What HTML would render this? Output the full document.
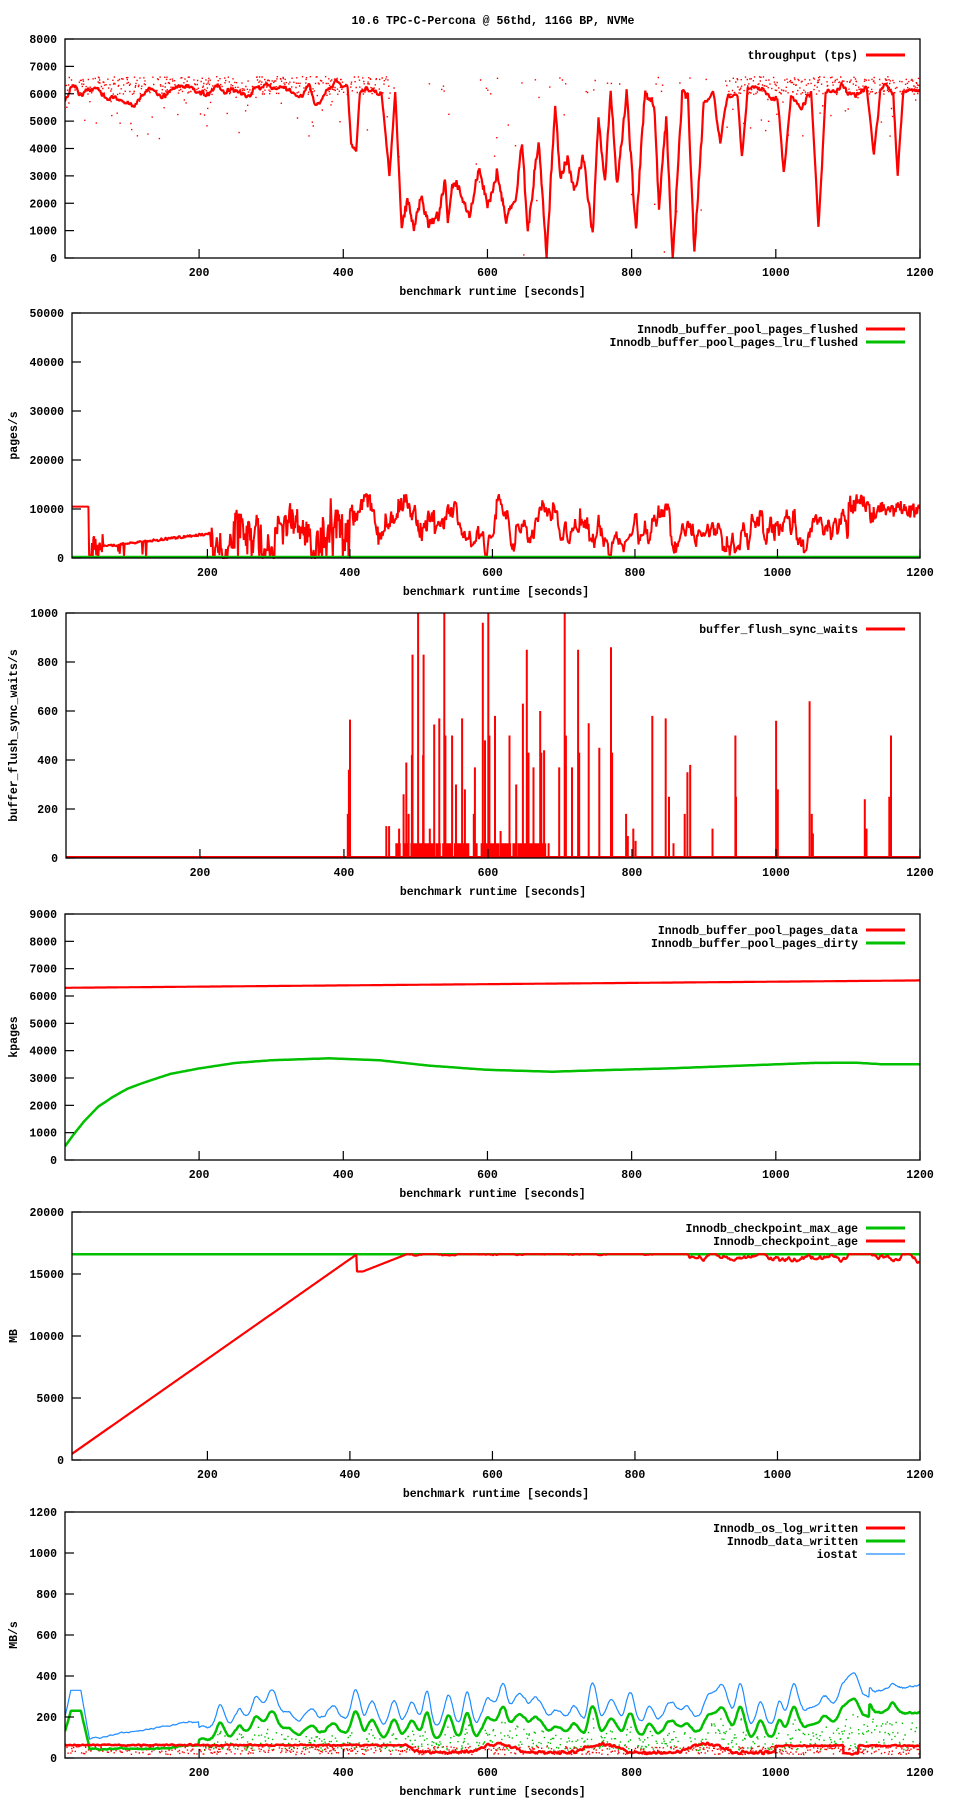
<!DOCTYPE html>
<html><head><meta charset="utf-8"><style>
html,body{margin:0;padding:0;background:#fff}
svg{display:block}
text{font-family:"Liberation Mono","DejaVu Sans Mono",monospace;font-weight:bold;font-size:11.5px;fill:#000}
</style></head><body>
<svg id="s" width="960" height="1800" viewBox="0 0 960 1800" xmlns="http://www.w3.org/2000/svg">
<text x="493" y="24" text-anchor="middle">10.6 TPC-C-Percona @ 56thd, 116G BP, NVMe</text>
</svg>
<script>
let seed=1234567;
function R(){seed|=0;seed=seed+0x6D2B79F5|0;let t=Math.imul(seed^seed>>>15,1|seed);t=t+Math.imul(t^t>>>7,61|t)^t;return((t^t>>>14)>>>0)/4294967296;}
function smooth(n,w){let a=[];for(let i=0;i<n;i++)a.push(R()*2-1);let b=[];for(let i=0;i<n;i++){let s=0,c=0;for(let j=-w;j<=w;j++){let k=i+j;if(k>=0&&k<n){s+=a[k];c++}}b.push(s/c*Math.sqrt(2*w+1)*0.6)}return b;}
function interp(kp,t){if(t<=kp[0][0])return kp[0][1];for(let i=1;i<kp.length;i++){if(t<=kp[i][0]){let a=kp[i-1],b=kp[i];return a[1]+(b[1]-a[1])*(t-a[0])/(b[0]-a[0]);}}return kp[kp.length-1][1];}
let out=[];let cid=0;
function P(o){o.right=o.right||920;const sx=(o.right-o.left)/(1200-o.xmin);o.X=t=>o.left+(t-o.xmin)*sx;o.Y=v=>o.bottom-(v-o.ymin)/(o.ymax-o.ymin)*(o.bottom-o.top);o.cid='c'+(cid++);
out.push(`<clipPath id="${o.cid}"><rect x="${o.left}" y="${o.top-1}" width="${o.right-o.left}" height="${o.bottom-o.top+2}"/></clipPath>`);return o;}
function line(o,pts,col,w){out.push(`<polyline clip-path="url(#${o.cid})" fill="none" stroke="${col}" stroke-width="${w}" stroke-linejoin="bevel" points="${pts.map(p=>p[0].toFixed(1)+','+p[1].toFixed(1)).join(' ')}"/>`);}
function dots(o,pts,col){let d=pts.map(p=>`M${p[0].toFixed(1)} ${p[1].toFixed(1)}h1.4v1.4h-1.4z`).join('');out.push(`<path clip-path="url(#${o.cid})" fill="${col}" d="${d}"/>`);}
function frame(o){
 out.push(`<rect x="${o.left}" y="${o.top}" width="${o.right-o.left}" height="${o.bottom-o.top}" fill="none" stroke="#000" stroke-width="1.3"/>`);
 for(let v=o.ymin;v<=o.ymax;v+=o.ystep){let y=o.Y(v);out.push(`<line x1="${o.left}" y1="${y}" x2="${o.left+9}" y2="${y}" stroke="#000" stroke-width="1.2"/><text x="${o.left-8}" y="${y+4}" text-anchor="end">${v}</text>`);}
 for(let t=200;t<=1200;t+=200){let x=o.X(t);out.push(`<line x1="${x}" y1="${o.bottom}" x2="${x}" y2="${o.bottom-9}" stroke="#000" stroke-width="1.2"/><text x="${x}" y="${o.bottom+18}" text-anchor="middle">${t}</text>`);}
 out.push(`<text x="${(o.left+o.right)/2}" y="${o.bottom+37}" text-anchor="middle">benchmark runtime [seconds]</text>`);
 if(o.ylabel){let ym=(o.top+o.bottom)/2;out.push(`<text transform="translate(17,${ym}) rotate(-90)" text-anchor="middle">${o.ylabel}</text>`);}
 (o.leg||[]).forEach((l,i)=>{let y=o.top+16+i*13;out.push(`<text x="${o.right-62}" y="${y+4}" text-anchor="end">${l[0]}</text><line x1="${o.right-54}" y1="${y}" x2="${o.right-15}" y2="${y}" stroke="${l[1]}" stroke-width="${l[2]}"/>`);});
}
const RED='#ff0000',GRN='#00c000',BLU='#1e8cff';
const N=1200;
// Panel 1
{let o=P({top:39,bottom:258,left:65,xmin:14,ymin:0,ymax:8000,ystep:1000,leg:[['throughput (tps)',RED,3]]});
let kp=[[15,5700],[30,6400],[43,5900],[60,6200],[95,5700],[118,5500],[137,6200],[163,5900],[180,6300],[214,6000],[231,6300],[265,5900],[283,6200],[325,6200],[342,5900],[360,6300],[368,5600],[390,6300],[413,6300],[418,4200],[425,3900],[430,6100],[460,6100],[471,2700],[479,5900],[488,1200],[496,2100],[505,1200],[515,2200],[525,1200],[539,1500],[548,2900],[552,1200],[560,2900],[582,1600],[595,3300],[607,2000],[620,3100],[633,1500],[646,2000],[655,4100],[663,900],[678,4400],[689,100],[701,5800],[708,3000],[718,3500],[727,2500],[740,3700],[753,800],[761,5100],[770,2800],[778,6000],[787,2800],[800,6000],[813,900],[825,6000],[838,5600],[845,2000],[855,5000],[864,0],[877,5900],[885,6000],[894,0],[907,5800],[920,6000],[930,4100],[941,6000],[954,5900],[960,3800],[968,6200],[1009,5900],[1018,3200],[1028,6000],[1043,5600],[1056,5900],[1066,1100],[1076,5900],[1086,6200],[1120,5900],[1133,6100],[1143,3700],[1152,6200],[1170,6100],[1176,2900],[1184,6000],[1210,6200]];
kp=kp.map(p=>[p[0]-7,p[1]]);kp[0][0]=14;
let ns=smooth(N+10,4),nf=smooth(N+10,0);let pts=[];
for(let t=14;t<=1200;t++){let v=interp(kp,t);let mid=t>480&&t<900;v+=ns[t]*(mid?150:300)+nf[t]*(mid?300:60);v=Math.max(0,Math.min(6700,v));pts.push([o.X(t),o.Y(v)]);}
line(o,pts,RED,2.2);
let dp=[];for(let t=14;t<=1200;t+=0.5){let mid=t>465&&t<930;if(R()<(mid?0.06:0.5)){let v=R()<0.9?6000+R()*650:4300+R()*1800;if(mid&&R()<0.3)v=R()*6000;dp.push([o.X(t),o.Y(v)]);}}
dots(o,dp,RED);frame(o);}
// Panel 2
{let o=P({top:313,bottom:558,left:72,xmin:10,ymin:0,ymax:50000,ystep:10000,ylabel:'pages/s',leg:[['Innodb_buffer_pool_pages_flushed',RED,3],['Innodb_buffer_pool_pages_lru_flushed',GRN,3]]});
let ns=smooth(N+10,2),nf=smooth(N+10,0),nm=smooth(N+10,8);let pts=[];
for(let t=10;t<=1200;t++){let v;
 if(t<34)v=10500;
 else if(t<205){v=2000+(t-34)/171*3000+nf[t]*500;if(t<55)v+=nf[t]*4000;if(R()<0.04)v=R()*1500;}
 else if(t<400){v=4500+nm[t]*9000+nf[t]*6000;if(R()<0.06)v=0;}
 else if(t<480){v=9000+nm[t]*5000+nf[t]*3000;}
 else if(t<1100){v=5800+nm[t]*6500+ns[t]*3000+nf[t]*1500;}
 else v=9500+nm[t]*3000+nf[t]*2500;
 v=Math.max(0,Math.min(13000,v));pts.push([o.X(t),o.Y(v)]);}
line(o,pts,RED,2);line(o,[[o.left,o.bottom-1],[o.right,o.bottom-1]],GRN,2.5);frame(o);}
// Panel 3
{let o=P({top:613,bottom:858,left:66,xmin:14,ymin:0,ymax:1000,ystep:200,ylabel:'buffer_flush_sync_waits/s'});
const sp=[[520,565],[518,360],[516,180],[585,130],[590,130],[608,120],[616,260],[621,390],[625,180],[631,420],[632,830],[642,1000],[652,830],[651,420],[663,120],[671,545],[680,570],[689,1000],[691,500],[703,500],[710,300],[721,570],[726,280],[744,370],[742,180],[758,960],[762,480],[768,1000],[770,500],[780,580],[790,110],[806,500],[818,300],[830,630],[837,850],[840,430],[849,370],[861,600],[863,430],[868,440],[876,60],[895,370],[905,1000],[907,500],[918,370],[929,850],[931,430],[948,550],[967,450],[988,860],[990,430],[1015,180],[1028,120],[1062,580],[1086,570],[1092,250],[1125,350],[1130,380],[1170,120],[1211,500],[1284,560],[1344,640],[1348,180],[1443,240],[1490,500],[1018,90],[1032,70],[1100,60],[1120,180],[1212,250],[1287,280],[1350,100],[1446,120],[1487,250]];
let d='';const B=858;
for(let px=600;px<880;px+=3){if(R()<0.85){let x=60+px/1.793;d+=`M${x.toFixed(1)} ${B}V${(B-60*0.245).toFixed(1)}`;}}
sp.forEach(s=>{let x=60+s[0]/1.793;d+=`M${x.toFixed(1)} ${B}V${(B-s[1]*0.245).toFixed(1)}`;});
out.push(`<path clip-path="url(#${o.cid})" d="${d}" stroke="${RED}" stroke-width="2" fill="none"/>`);
line(o,[[o.left,B-1],[o.right,B-1]],RED,2);
o.leg=[['buffer_flush_sync_waits',RED,3]];frame(o);}
// Panel 4
{let o=P({top:914,bottom:1160,left:65,xmin:14,ymin:0,ymax:9000,ystep:1000,ylabel:'kpages'});
let r=[],g=[];let gk=[[14,500],[25,900],[40,1400],[60,1950],[80,2300],[100,2600],[120,2800],[160,3150],[200,3350],[250,3550],[300,3650],[380,3720],[450,3650],[520,3450],[600,3300],[690,3230],[750,3280],[850,3350],[950,3450],[1050,3550],[1110,3560],[1150,3500],[1200,3500]];
for(let t=14;t<=1200;t+=2){r.push([o.X(t),o.Y(6300+(t-14)/1186*270)]);g.push([o.X(t),o.Y(interp(gk,t))]);}
line(o,r,RED,2.2);line(o,g,GRN,2.5);
o.leg=[['Innodb_buffer_pool_pages_data',RED,3],['Innodb_buffer_pool_pages_dirty',GRN,3]];frame(o);}
// Panel 5
{let o=P({top:1212,bottom:1460,left:72,xmin:10,ymin:0,ymax:20000,ystep:5000,ylabel:'MB'});
let r=[];let ns=smooth(N+10,6);
for(let t=10;t<=1200;t++){let v;
 if(t<410)v=500+(t-10)/400*16100;
 else if(t<418)v=15200;
 else if(t<480)v=15200+(t-418)/62*1400;
 else if(t<870)v=16600-Math.max(0,ns[t])*150;
 else v=16600-Math.max(0,ns[t]+0.3)*700;
 r.push([o.X(t),o.Y(Math.min(16600,v))]);}
line(o,[[o.left,o.Y(16600)],[o.right,o.Y(16600)]],GRN,2.5);line(o,r,RED,2.2);
o.leg=[['Innodb_checkpoint_max_age',GRN,3],['Innodb_checkpoint_age',RED,3]];frame(o);}
// Panel 6
{let o=P({top:1512,bottom:1758,left:65,xmin:14,ymin:0,ymax:1200,ystep:200,ylabel:'MB/s'});
let bump=new Array(N+20).fill(0);
for(let t=230;t<1190;t+=18+R()*14){let h=70+R()*150,w=5+R()*5;for(let k=-25;k<=25;k++){let i=Math.round(t+k);if(i>0&&i<N+20)bump[i]+=h*Math.exp(-k*k/(2*w*w));}}
let ns=smooth(N+10,2),nf=smooth(N+10,0),nr=smooth(N+10,1);
let b=[],g=[],r=[],rd=[],gd=[];
for(let t=14;t<=1200;t++){let bb,gg,rr;
 if(t<22){bb=200+(t-14)*16;gg=130+(t-14)*12;}
 else if(t<36){bb=330;gg=230;}
 else if(t<48){bb=330-(t-36)*20;gg=230-(t-36)*15;}
 else if(t<200){bb=95+(t-48)/152*85+ns[t]*8;gg=45+ns[t]*6+(t>150?(t-150)*0.4:0);}
 else if(t<1130){bb=150+bump[t]+ns[t]*10;gg=90+bump[t]*0.75+ns[t]*8;}
 else {bb=320+(t-1130)*0.5+ns[t]*10+bump[t]*0.15;gg=220+bump[t]*0.3+ns[t]*10;}
 if(t<480)rr=63+nr[t]*5;
 else if(t<1000)rr=28+Math.max(0,Math.sin(t/23)*40)+nr[t]*12;
 else rr=60+nr[t]*5-(Math.sin(t/19)>0.85?40:0);
 rr=Math.max(2,rr);
 b.push([o.X(t),o.Y(bb)]);g.push([o.X(t),o.Y(gg)]);r.push([o.X(t),o.Y(rr)]);
 if(R()<0.5)rd.push([o.X(t+R()),o.Y(20+R()*40)]);
 if(t>200&&R()<0.6)gd.push([o.X(t+R()),o.Y(40+R()*(gg*0.8-40))]);}
dots(o,gd,GRN);dots(o,rd,RED);line(o,b,BLU,1.2);line(o,g,GRN,2.5);line(o,r,RED,2.5);
o.leg=[['Innodb_os_log_written',RED,3],['Innodb_data_written',GRN,3],['iostat',BLU,1.3]];frame(o);}
document.getElementById('s').insertAdjacentHTML('beforeend',out.join(''));
</script>
</body></html>
